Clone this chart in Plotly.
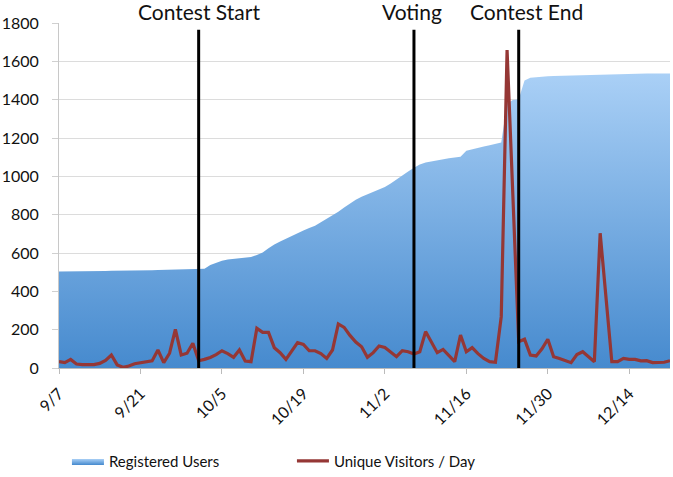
import pandas as pd
import plotly.graph_objects as go

start_date = "2012-09-07"
registered_users = [
    503, 503, 504, 504, 505, 505, 505, 506, 506, 507,
    507, 508, 508, 509, 509, 510, 510, 511, 512, 513,
    514, 515, 515, 516, 516, 518, 537, 550, 560, 566,
    570, 573, 576, 579, 590, 603, 625, 645, 660, 675,
    690, 704, 718, 730, 742, 760, 778, 797, 815, 838,
    860, 878, 893, 905, 917, 929, 945, 963, 985, 1005,
    1025, 1045, 1062, 1072, 1078, 1085, 1090, 1095, 1098, 1102,
    1134, 1140, 1148, 1155, 1162, 1170, 1177, 1380, 1398, 1402,
    1500, 1515, 1518, 1520, 1522, 1523, 1524, 1525, 1526, 1527,
    1528, 1529, 1530, 1531, 1532, 1533, 1533, 1534, 1534, 1535,
    1535, 1536, 1536, 1536, 1537, 1537,
]
unique_visitors = [
    33, 28, 45, 21, 18, 16, 18, 24, 40, 68,
    16, 4, 10, 22, 28, 30, 37, 94, 28, 77,
    202, 68, 77, 129, 38, 45, 55, 70, 90, 75,
    56, 94, 36, 33, 207, 186, 186, 106, 80, 45,
    90, 132, 123, 90, 90, 75, 50, 94, 230, 212,
    170, 135, 111, 56, 80, 115, 107, 85, 59, 90,
    85, 73, 85, 190, 135, 80, 97, 65, 33, 172,
    85, 106, 75, 50, 33, 30, 268, 1659, 900, 137,
    150, 68, 63, 100, 150, 59, 50, 40, 28, 70,
    85, 59, 33, 703, 370, 33, 33, 50, 45, 45,
    37, 38, 28, 28, 30, 38,
]
event_names = ["Contest Start", "Voting", "Contest End"]
event_dates = ["2012-10-01", "2012-11-07", "2012-11-25"]
event_label_shift = [0, -2, 8]
y_ticks = [0, 200, 400, 600, 800, 1000, 1200, 1400, 1600, 1800]

dates = pd.date_range(start_date, periods=len(registered_users), freq="D")

FONT = "Lato, 'Open Sans', sans-serif"

fig = go.Figure()
fig.add_trace(go.Scatter(
    x=dates, y=registered_users, name="Registered Users",
    mode="lines", line=dict(width=0, color="#6fa8e3"),
    fill="tozeroy",
    fillgradient=dict(type="vertical", start=0, stop=1540,
                      colorscale=[[0, "rgb(70,138,206)"], [1, "rgb(170,208,246)"]]),
))
fig.add_trace(go.Scatter(
    x=dates, y=unique_visitors, name="Unique Visitors / Day",
    mode="lines", line=dict(width=3.2, color="#953735"),
))

for name, d, sh in zip(event_names, event_dates, event_label_shift):
    fig.add_shape(type="line", x0=d, x1=d, y0=0, y1=1765, xref="x", yref="y",
                  line=dict(color="black", width=3))
    fig.add_annotation(x=d, y=1800, xref="x", yref="y", text=name, showarrow=False,
                       yanchor="bottom", xshift=sh, yshift=-3,
                       font=dict(family=FONT, size=21, color="#111"))

fig.update_layout(
    width=673, height=477,
    margin=dict(l=59, r=3, t=23, b=109, autoexpand=False),
    paper_bgcolor="white", plot_bgcolor="white",
    font=dict(family=FONT, color="#111"),
    showlegend=True,
    legend=dict(orientation="h", x=0.013, xanchor="left", y=-0.27, yanchor="middle",
                entrywidth=178, entrywidthmode="pixels", itemwidth=32,
                font=dict(family=FONT, size=15, color="#111")),
    xaxis=dict(
        type="date", range=[dates[0], dates[-1]],
        tick0=dates[0], dtick=14 * 86400000, tickformat="%-m/%-d",
        tickangle=-45, ticks="outside", ticklen=5, tickcolor="#bbbbbb",
        showline=True, linecolor="#bbbbbb", linewidth=1,
        showgrid=False, zeroline=False, automargin=False,
        tickfont=dict(family=FONT, size=16, color="#111"),
        ticklabelstandoff=4,
    ),
    yaxis=dict(
        range=[0, 1800], tickvals=y_ticks,
        ticks="outside", ticklen=6, tickcolor="#d0d0d0",
        showline=True, linecolor="#c8c8c8", linewidth=1,
        showgrid=True, gridcolor="#dcdcdc", gridwidth=1, zeroline=False,
        automargin=False,
        tickfont=dict(family=FONT, size=16, color="#111"),
        ticklabelstandoff=10,
    ),
)

fig.write_html("out.html")
